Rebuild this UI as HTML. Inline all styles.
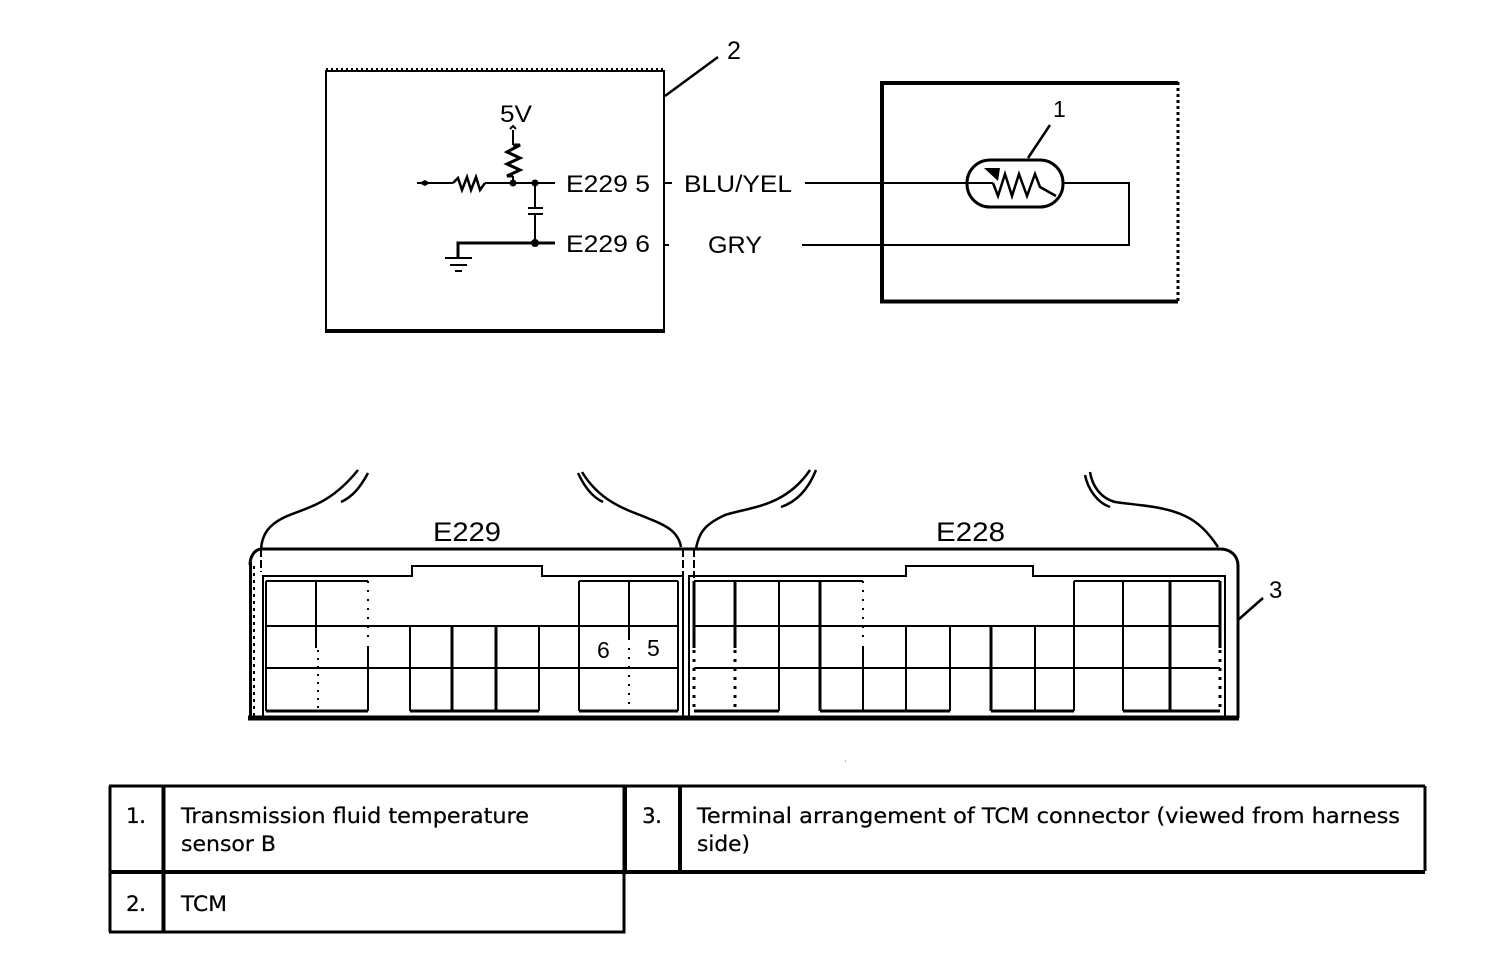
<!DOCTYPE html>
<html><head><meta charset="utf-8"><style>
html,body{margin:0;padding:0;background:#fff}
svg{display:block}
.l{font-family:"Liberation Sans",sans-serif;fill:#000}
.t{font-family:"DejaVu Sans",sans-serif;font-size:21.5px;fill:#000;stroke:#000;stroke-width:.25}
</style></head><body>
<svg width="1504" height="972" viewBox="0 0 1504 972" xmlns="http://www.w3.org/2000/svg">
<rect width="1504" height="972" fill="#fff"/>
<g fill="none" stroke="#000" stroke-width="2" shape-rendering="crispEdges">
<!-- TCM box -->
<path d="M326 69H664" stroke-width="2" stroke-dasharray="2 3"/>
<path d="M325 71H665"/>
<path d="M326 70V332M664 70V332"/>
<path d="M325 331H665" stroke-width="4"/>
<!-- sensor box -->
<path d="M880 83H1178M882 82V303M880 301.500H1178" stroke-width="4"/>
<path d="M1178 82V302" stroke-width="3" stroke-dasharray="3 3"/>
<!-- wires -->
<path d="M805 183H993M1063 183H1129V245H802"/>
<path d="M665 183H672M665 245H669"/>
<!-- circuit -->
<path d="M417 183H453M485 183H555M513 130V145M513 176V183"/>
<path d="M535 183V208M528 208H543M528 214H543M535 214V243"/>
<path d="M458 258V243H555" stroke-width="3"/>
<path d="M445 258H472M450 265H467M455 271H462"/>
<!-- connector frames -->
<path d="M263 716V576H412V566H542V576H683V716"/>
<path d="M689 716V576H906V566H1033V576H1225V716"/>
<path d="M248 718H1239" stroke-width="5"/>
<path d="M250.500 562V718" stroke-width="3"/>
<path d="M254 566V716" stroke-width="2" stroke-dasharray="3 4"/>
<path d="M1238 565V718" stroke-width="3"/>
<path d="M260 549H1220" stroke-width="3"/>
<path d="M261 549V572M683 549V575M694 549V578" stroke-dasharray="8 3"/>
<!-- E229 grid -->
<path d="M266 581V711M266 581H368M266 626H678M266 668H678"/>
<path d="M266 711H368M410 711H539M579 711H678" stroke-width="3"/>
<path d="M316 581V648"/>
<path d="M318 650V711" stroke-dasharray="2 6"/>
<path d="M368 581V642" stroke-dasharray="2 7"/>
<path d="M368 646V711"/>
<path d="M410 626V711M539 626V711"/>
<path d="M452 626V711M496 626V711" stroke-width="3"/>
<path d="M579 581V711M579 581H678M678 581V711M629 581V640"/>
<path d="M629 648V711" stroke-dasharray="2 7"/>
<!-- E228 grid -->
<path d="M694 581V648M735 581V648M1220 581V648" stroke-width="3"/>
<path d="M694 650V711M735 650V711M1220 650V711" stroke-width="3" stroke-dasharray="3 6"/>
<path d="M694 581H863M1074 581H1220M694 626H1220M694 668H1220"/>
<path d="M694 711H779M820 711H950M991 711H1074M1123 711H1220" stroke-width="3"/>
<path d="M779 581V711M906 626V711M950 626V711M1035 626V711M1074 581V711M1123 581V711M863 646V711"/>
<path d="M820 581V711M991 626V711M1170 581V711" stroke-width="3"/>
<path d="M863 581V642" stroke-dasharray="2 7"/>
<!-- table -->
<path d="M109 786H624V871M110 786V932M109 932H624V871" stroke-width="3"/>
<path d="M163.500 786V932M109 872H1425" stroke-width="4"/>
<path d="M625 786H1425M1425 786V871" stroke-width="3"/>
<path d="M625 786V871M680 786V871" stroke-width="4"/>
<path d="M845 761H846" stroke-width="1" stroke="#777"/>
</g>
<g fill="none" stroke="#000" stroke-width="2">
<!-- leaders -->
<path d="M665 96L718 57M1028 158L1050 125M1238 620L1263 598" stroke-width="2.500"/>
<!-- resistors -->
<path d="M453 183L458 178L462 190L467 177L471 190L476 177L480 190L485 183" stroke-width="2.500"/>
<path d="M513 145L520 145L507 152L520 158L507 164L520 170L507 176L513 176" stroke-width="3"/>
<path d="M510 129L513 126L516 129"/>
<rect x="967" y="160" width="96" height="47" rx="23" ry="23" stroke-width="3"/>
<path d="M993 183L998 196L1005 174L1012 196L1019 174L1027 196L1035 174L1040 187L1056 196" stroke-width="2.500"/>
<!-- harness curves -->
<path d="M261 549C262 535 268 525 285 517C305 508 330 505 358 470" stroke-width="2.500"/>
<path d="M341 502C352 497 360 488 368 473" stroke-width="2.500"/>
<path d="M681 547C678 530 665 525 640 515C615 506 596 495 582 472" stroke-width="2.500"/>
<path d="M603 502C592 497 584 486 578 473" stroke-width="2.500"/>
<path d="M696 549C699 530 708 523 725 515C750 507 785 507 810 470" stroke-width="2.500"/>
<path d="M781 507C796 502 808 490 816 470" stroke-width="2.500"/>
<path d="M1218 547C1208 532 1198 522 1185 516C1165 506 1135 505 1115 502C1100 498 1092 485 1090 472" stroke-width="2.500"/>
<path d="M1110 507C1098 503 1088 490 1085 475" stroke-width="2.500"/>
<path d="M1220 549C1230 549 1238 555 1238 566" stroke-width="3"/>
<path d="M250 565C250 556 255 549 262 549" stroke-width="3"/>
</g>
<g fill="#000">
<path d="M984 168L1000 168L998 181Z"/>
<path d="M425 180L430 183L425 186L419 183Z"/>
<circle cx="513" cy="183" r="3.500"/><circle cx="535" cy="183" r="3.500"/><circle cx="535" cy="243" r="4"/>
</g>
<!-- diagram labels -->
<g class="l">
<text class="l" x="727" y="59" font-size="25">2</text>
<text class="l" x="1053" y="117" font-size="23">1</text>
<text class="l" x="1269" y="598" font-size="24">3</text>
<text class="l" x="500" y="122" font-size="24" textLength="32" lengthAdjust="spacingAndGlyphs">5V</text>
<text class="l" x="566" y="192" font-size="24" textLength="84" lengthAdjust="spacingAndGlyphs">E229 5</text>
<text class="l" x="566" y="252" font-size="24" textLength="84" lengthAdjust="spacingAndGlyphs">E229 6</text>
<text class="l" x="684" y="192" font-size="24" textLength="108" lengthAdjust="spacingAndGlyphs">BLU/YEL</text>
<text class="l" x="708" y="253" font-size="24" textLength="54" lengthAdjust="spacingAndGlyphs">GRY</text>
<text class="l" x="433" y="541" font-size="27" textLength="68" lengthAdjust="spacingAndGlyphs">E229</text>
<text class="l" x="936" y="541" font-size="27" textLength="69" lengthAdjust="spacingAndGlyphs">E228</text>
<text class="l" x="597" y="658" font-size="23">6</text>
<text class="l" x="647" y="656" font-size="23">5</text>
</g>
<!-- table text -->
<text class="t" x="126" y="823" textLength="20">1.</text>
<text class="t" x="181" y="823" textLength="348" lengthAdjust="spacingAndGlyphs">Transmission fluid temperature</text>
<text class="t" x="181" y="851" textLength="95" lengthAdjust="spacingAndGlyphs">sensor B</text>
<text class="t" x="642" y="823" textLength="20">3.</text>
<text class="t" x="697" y="823" textLength="703" lengthAdjust="spacingAndGlyphs">Terminal arrangement of TCM connector (viewed from harness</text>
<text class="t" x="697" y="851" textLength="53" lengthAdjust="spacingAndGlyphs">side)</text>
<text class="t" x="126" y="911" textLength="20">2.</text>
<text class="t" x="181" y="911" textLength="46" lengthAdjust="spacingAndGlyphs">TCM</text>
</svg>
</body></html>
